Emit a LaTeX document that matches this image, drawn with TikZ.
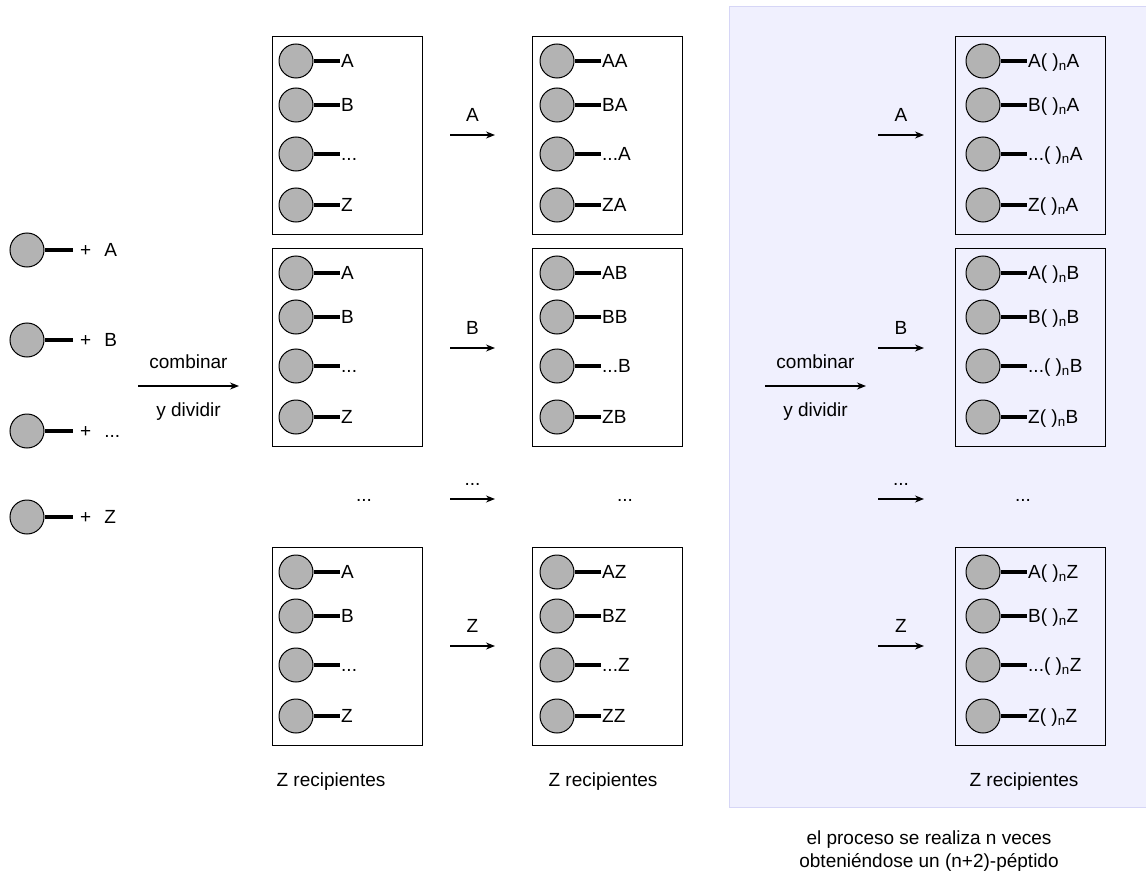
\documentclass[tikz,border=0pt]{standalone}
\usepackage{fontspec}
\setmainfont{Liberation Sans}
\usetikzlibrary{arrows.meta}
\definecolor{panelfill}{HTML}{F0F0FE}
\definecolor{panelline}{HTML}{D6D6F6}
\definecolor{beadgray}{HTML}{B3B3B3}
\newcommand{\dotz}{...}

\begin{document}
\begin{tikzpicture}[x=1pt,y=-1pt,font=\fontsize{19}{23}\selectfont,
		bead/.style={circle,draw,fill=beadgray,line width=1pt,minimum size=34pt,inner sep=0pt},
		stem/.style={line width=4pt},
		tag/.style={anchor=west,inner sep=1pt,text height=13.6pt,text depth=0pt},
		txt/.style={inner sep=2pt,text height=13.6pt,text depth=0pt},
		vessel/.style={draw,line width=1.1pt,minimum width=150pt,minimum height=198pt,anchor=north west,inner sep=0pt},
		arr/.style={-{Stealth[length=9pt,width=7pt]},line width=1.2pt}]
		\useasboundingbox (0,0) rectangle (1146,872);
		% repeated part
		\fill[panelfill,draw=panelline,line width=1pt] (729,7) rectangle (1147,807);
		\foreach \y/\l [count=\i] in {250/A,340/B,431/\dotz,517/Z} {
			\node[bead] (p\i) at (27,\y) {};
			\node[txt,anchor=west,inner sep=0pt] (s\i) at (80,\y) {+\hspace{13pt}\l};
			\draw[stem,shorten >=7pt] (p\i) -- (s\i);
		}
		\foreach \c/\x/\dx/\m in {2/272/24/{},3/532/25/{},4/955/28/{( )\textsubscript{n}}}
			\foreach \k/\y/\s in {1/36/A,2/248/B,3/547/Z} {
				\node[vessel] (b\c\k) at (\x,\y) {};
				\foreach \r/\dy/\l in {1/25/A,2/69/B,3/118/\dotz,4/169/Z} {
					\node[bead] (p\c\k\r) at (\x+\dx,\y+\dy) {};
					\node[tag] (t\c\k\r) at (\x+\dx+44,\y+\dy) {\l\ifnum\c>2 \m\s\fi};
					\draw[stem] (p\c\k\r) -- (t\c\k\r);
				}
			}
		\foreach \y/\l [count=\k] in {135/A,348/B,499/\dotz,646/Z} {
			\coordinate (a\k) at (450,\y);
			\coordinate (e\k) at (495,\y);
			\draw[arr] (a\k) -- (e\k) node[midway,txt,above=11pt] {\l};
			\coordinate (f\k) at (878,\y);
			\coordinate (g\k) at (924,\y);
			\draw[arr] (f\k) -- (g\k) node[midway,txt,above=11pt] {\l};
		}
		\coordinate (m1) at (138,386);
		\coordinate (n1) at (239,386);
		\draw[arr] (m1) -- (n1) node[midway,txt,above=15pt] {combinar} node[midway,txt,below=14pt] {y dividir};
		\coordinate (m2) at (765,386);
		\coordinate (n2) at (866,386);
		\draw[arr] (m2) -- (n2) node[midway,txt,above=15pt] {combinar} node[midway,txt,below=14pt] {y dividir};
		\node[txt,anchor=base] (d2) at (364,501) {\dotz};
		\node[txt,anchor=base] (d3) at (625,501) {\dotz};
		\node[txt,anchor=base] (d4) at (1023,501) {\dotz};
		\node[txt] (r2) at (331,780) {Z recipientes};
		\node[txt] (r3) at (603,780) {Z recipientes};
		\node[txt] (r4) at (1024,780) {Z recipientes};
		\node[align=center,anchor=base,inner sep=0pt] (note) at (929,867) {el proceso se realiza n veces\\obteniéndose un (n+2)-péptido};
	\end{tikzpicture}
\end{document}
